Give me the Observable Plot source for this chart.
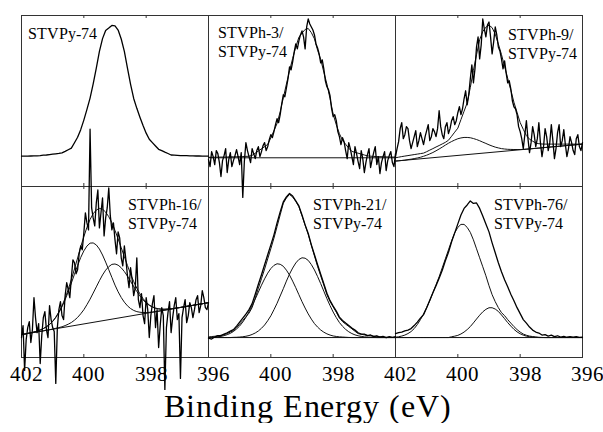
<!DOCTYPE html>
<html><head><meta charset="utf-8">
<script src="https://cdn.jsdelivr.net/npm/d3@7"></script>
<script src="https://cdn.jsdelivr.net/npm/@observablehq/plot@0.6"></script>
<style>
@font-face{font-family:"RefSerif";src:local("Liberation Serif"),local("LiberationSerif"),local("LiberationSerif-Regular"),local("Liberation Serif Regular"),local("Times New Roman");font-weight:400;font-style:normal;}
body{margin:0;background:#fff;}
#chart{width:603px;height:390px;}
#chart svg, #chart svg text, #chart svg tspan{font-family:"RefSerif","Liberation Serif","Times New Roman",Times,serif !important;}
#title{font-family:"RefSerif","Liberation Serif","Times New Roman",Times,serif;font-size:32px;line-height:33px;letter-spacing:0.9px;text-align:center;padding-left:13px;width:590px;color:#000;}
</style></head><body>
<div id="chart"></div>
<div id="title">Binding Energy (eV)</div>
<script>
// Binding energy grids (eV)
const energy = [402.0,401.9,401.8,401.7,401.6,401.5,401.4,401.3,401.2,401.1,401.0,400.9,400.8,400.7,400.6,400.5,400.4,400.3,400.2,400.1,400.0,399.9,399.8,399.7,399.6,399.5,399.4,399.3,399.2,399.1,399.0,398.9,398.8,398.7,398.6,398.5,398.4,398.3,398.2,398.1,398.0,397.9,397.8,397.7,397.6,397.5,397.4,397.3,397.2,397.1,397.0,396.9,396.8,396.7,396.6,396.5,396.4,396.3,396.2,396.1,396.0];
const energyFine = [402,401.95,401.9,401.85,401.8,401.75,401.7,401.65,401.6,401.55,
401.5,401.45,401.4,401.35,401.3,401.25,401.2,401.15,401.1,401.05,
401,400.95,400.9,400.85,400.8,400.75,400.7,400.65,400.6,400.55,
400.5,400.45,400.4,400.35,400.3,400.25,400.2,400.15,400.1,400.05,
400,399.95,399.9,399.85,399.8,399.75,399.7,399.65,399.6,399.55,
399.5,399.45,399.4,399.35,399.3,399.25,399.2,399.15,399.1,399.05,
399,398.95,398.9,398.85,398.8,398.75,398.7,398.65,398.6,398.55,
398.5,398.45,398.4,398.35,398.3,398.25,398.2,398.15,398.1,398.05,
398,397.95,397.9,397.85,397.8,397.75,397.7,397.65,397.6,397.55,
397.5,397.45,397.4,397.35,397.3,397.25,397.2,397.15,397.1,397.05,
397,396.95,396.9,396.85,396.8,396.75,396.7,396.65,396.6,396.55,
396.5,396.45,396.4,396.35,396.3,396.25,396.2,396.15,396.1,396.05,
396];
const baseEnergy = [402, 396];

// Panel labels
const panelLabels = ["STVPy-74","STVPh-3/\nSTVPy-74","STVPh-9/\nSTVPy-74","STVPh-16/\nSTVPy-74","STVPh-21/\nSTVPy-74","STVPh-76/\nSTVPy-74"];

// Tick labels per column (bottom row)
const tickLabelsByCol = [[402,400,398,396],[400,398],[402,400,398,396]];
const minorTicks = [400, 398];

// N 1s intensities (a.u.)
const p1Data = [30.5,30.5,30.5,30.6,30.7,30.8,31.0,31.4,31.6,32.0,32.4,32.8,33.2,33.8,35.3,36.9,38.5,43.9,49.4,57.0,66.6,77.3,88.7,103.0,118.8,135.5,148.3,156.5,158.9,161.5,161.0,156.9,147.9,135.5,118.8,102.5,88.3,78.4,69.5,61.1,53.5,47.4,44.0,40.6,37.3,36.0,34.5,33.1,31.6,31.4,31.2,31.0,31.0,30.9,30.8,30.7,30.6,30.6,30.5,30.5,30.5];

const p2Data = [27,20,35,30,22,36,33,24,10,26,31,38,14,27,34,20,26,31,37,30,22,34,-11,25,44,36,30,24,38,33,28,36,40,30,35,41,44,36,40,47,52,49,55,62,68,64,72,83,92,90,99,108,120,117,125,135,143,138,146,152,156,150,138,160,168,163,160,157,152,143,139,133,124,127,118,106,100,97,91,78,70,72,66,55,50,42,49,45,36,28,44,38,30,22,40,33,25,18,36,28,14,24,32,38,19,27,34,40,22,30,13,24,30,35,16,26,31,35,24,20,33];
const p2Fit = [29.3,29.3,29.4,29.4,29.5,29.5,29.6,29.7,29.8,29.9,30.0,30.1,30.2,30.4,31.2,33.4,35.6,37.8,40.0,42.2,48.7,56.0,63.2,75.0,88.9,102.8,116.1,128.4,139.9,149.7,153.8,157.5,158.5,154.3,148.1,136.7,127.5,114.7,102.7,88.0,72.5,61.9,53.0,46.4,42.4,38.4,35.2,34.3,33.4,32.5,31.6,30.7,30.4,30.2,30.0,29.9,29.8,29.7,29.6,29.5,29.5];
const p2Base = [28.8, 28.8];

const p3Data = [30,38,45,58,64,48,52,60,58,46,38,44,50,56,40,46,54,48,42,50,56,62,46,50,58,55,50,58,76,60,52,48,60,64,53,58,66,70,62,66,74,80,72,78,88,96,82,92,108,122,104,118,140,150,128,142,168,158,150,162,165,150,133,145,160,152,140,136,128,118,126,114,104,106,98,86,80,78,72,60,55,48,38,52,66,48,34,44,60,52,40,48,64,44,30,40,58,50,36,44,62,46,28,38,54,62,40,46,57,42,30,38,50,44,36,32,48,52,40,36,44];
const p3Fit = [28.8,29.4,30.0,30.5,31.0,31.5,32.0,32.5,33.0,33.5,34.9,36.5,38.0,39.6,41.1,42.7,44.3,46.4,50.4,54.5,58.5,67.1,75.5,83.9,99.3,116.4,132.1,147.2,155.4,159.8,161.8,159.3,152.8,143.0,132.4,120.5,108.5,96.6,84.5,74.3,64.1,57.3,51.1,47.4,45.5,43.6,42.9,42.6,42.5,42.5,42.5,42.5,42.5,42.5,42.5,42.5,42.5,42.5,42.5,42.5,42.5];
const p3Minor = [25.5,25.8,26.1,26.4,27.0,27.4,28.0,28.6,29.3,30.3,31.4,32.7,34.1,35.8,37.6,39.5,41.5,43.4,45.1,46.6,47.9,48.7,49.2,49.2,48.9,48.1,47.1,45.9,44.5,43.2,41.8,40.6,39.5,38.7,38.0,37.6,37.3,37.2,37.1,37.1,37.1,37.2,37.5,37.7,38.0,38.3,38.5,38.8,39.1,39.4,39.7,39.9,40.2,40.5,40.8,41.1,41.4,41.6,41.9,42.2,42.5];
const p3Base = [25.5, 42.5];

const p4Data = [20,32,-13,18,30,36,15,28,60,40,25,34,-6,22,40,46,28,20,52,38,30,26,-26,30,48,56,42,38,62,75,68,60,80,98,95,84,88,104,112,108,125,145,135,128,229,150,140,132,155,168,130,145,160,122,140,150,170,142,128,135,118,104,126,120,100,92,112,98,82,70,90,78,62,70,100,58,50,64,42,34,60,48,20,42,54,62,30,48,10,32,50,42,-33,30,45,56,25,40,52,60,38,44,-21,40,50,58,35,42,55,50,40,48,58,62,45,52,67,60,50,48,55];
const p4Fit = [23.0,23.5,24.2,24.9,25.6,26.5,27.6,29.0,30.9,33.2,36.3,40.5,45.7,51.8,59.5,68.3,78.3,88.8,99.8,111.0,121.1,130.6,138.5,144.2,147.9,149.5,148.7,145.9,141.2,135.2,127.4,119.0,110.1,101.1,92.3,83.8,76.1,69.5,63.8,59.1,55.4,52.7,50.8,49.5,48.8,48.4,48.4,48.6,48.9,49.3,49.8,50.2,50.7,51.3,51.8,52.3,52.9,53.4,53.9,54.5,55.0];
const p4CompA = [23.0,23.5,24.2,24.9,25.6,26.5,27.6,29.0,30.8,33.1,36.1,40.1,45.1,50.9,58.0,65.9,74.7,83.5,92.2,100.3,106.9,111.8,114.7,114.9,112.9,108.8,102.8,95.7,88.0,80.3,72.6,65.9,60.2,55.5,51.8,49.1,47.2,46.0,45.4,45.1,45.1,45.3,45.6,46.0,46.5,47.0,47.5,48.1,48.6,49.1,49.7,50.2,50.7,51.3,51.8,52.3,52.9,53.4,53.9,54.5,55.0];
const p4CompB = [23.0,23.5,24.1,24.6,25.1,25.7,26.2,26.7,27.4,27.9,28.5,29.3,30.0,30.8,32.0,33.4,35.1,37.4,40.2,43.8,47.9,53.0,58.5,64.6,70.8,77.0,82.8,87.6,91.1,93.4,93.8,92.6,90.0,86.2,81.6,76.4,71.1,66.2,61.7,57.8,54.6,52.3,50.6,49.4,48.8,48.4,48.4,48.6,48.9,49.3,49.8,50.2,50.7,51.3,51.8,52.3,52.9,53.4,53.9,54.5,55.0];
const p4Base = [23, 55];

const p5Data = [19.5,18.5,20.5,22,21.8,23.5,24.8,26.5,28,31.5,35.5,39.5,43.5,48,54,63.5,73.5,83,93,103,113,123,135,146,156,161,164.5,162,157,152,143,133,124.5,113,103,93,83.5,74,64.5,57,51.5,46.5,40.5,37.2,34.5,32,29.5,27.5,24.8,23.5,23.4,22,22.6,21,21.8,20.5,21.2,19.8,20.9,20.2,21];
const p5Fit = [20.5,21.0,21.3,21.7,22.3,23.0,24.0,25.5,26.8,29.8,33.5,37.1,40.9,44.5,50.1,59.6,69.5,79.0,88.7,98.9,109.1,119.7,131.3,143.0,154.7,160.0,163.5,161.0,156.6,151.3,142.0,132.7,123.3,112.4,101.9,91.4,81.9,72.6,63.0,56.3,50.8,45.5,39.6,36.0,33.5,31.1,28.8,26.3,24.0,23.3,22.7,22.2,21.8,21.4,21.1,20.8,20.6,20.4,20.2,20.1,20.0];
const p5CompA = [20.2,20.3,20.5,20.8,21.2,21.9,22.9,24.2,26.1,28.6,31.6,35.6,40.2,45.8,51.8,58.6,65.6,72.5,78.9,84.6,89.2,92.4,94.0,93.5,91.5,87.6,82.7,76.6,70.0,63.0,56.0,49.6,43.7,38.5,34.0,30.5,27.6,25.4,23.7,22.5,21.6,21.1,20.7,20.5,20.3,20.1,20,20,20,20,20,20,20,20,20,20,20,20,20,20,20];
const p5CompB = [20,20,20,20,20,20,20,20,20.2,20.3,20.5,20.8,21.3,22.0,23.1,24.6,26.6,29.3,32.6,36.9,41.8,47.9,54.4,61.7,69.0,76.6,83.7,89.7,94.8,98.3,100.0,99.6,97.4,93.2,87.8,81.2,74.1,66.5,59.0,52.0,45.6,40.0,35.1,31.3,28.2,25.8,24.0,22.7,21.8,21.2,20.7,20.5,20.3,20.1,20,20,20,20,20,20,20];
const p5Base = [20, 20];

const p6Data = [24,25,25.5,26.8,27.5,29,32,35.5,39.5,43,50,57.5,65,72,79.5,87.5,97,105.5,116,125,134,143,149.5,153,157,154.5,155,149.5,142,134,126,115,105,95,86,78,71,63.5,57,50,44,38,34.5,30.5,27.5,25.5,24.5,22.5,23,21.5,22.5,21,21.8,20.5,21.2,20.3,21,20.4,20.8,20.2,20.5];
const p6CompA = [20.3,20.8,21.5,22.5,24,26,29,33,38,43.5,50,57,65,73,81,90,99,108,117,125,130.5,133.5,133.5,130.5,125.5,118,109,100,91,82,72,63,56,50,45,42,38,34.5,31,28,25.5,23.5,22.3,21.5,21,20.6,20.3,20.1,20,20,20,20,20,20,20,20,20,20,20,20,20];
const p6CompB = [20,20,20,20,20,20,20,20,20,20,20,20,20,20,20,20,20,20,20.8,21.4,22.2,23.6,25.5,28,31,34.7,38.6,42.4,45.8,48.3,49.9,49.9,48.6,46.2,42.7,38.9,35,31.5,28.3,25.7,23.8,22.4,21.4,20.8,20.4,20.2,20,20,20,20,20,20,20,20,20,20,20,20,20,20,20];
const p6Base = [20, 20];

// ---- assemble tidy rows ----
const dataRows = [], fitRows = [];
function add(target, xs, ys, col, row, name) {
  ys.forEach((v, i) => target.push({E: xs[i], v, col, row, name}));
}
add(dataRows, energy, p1Data, 0, 0, "p1");
add(dataRows, energyFine, p2Data, 1, 0, "p2");
add(fitRows, energy, p2Fit, 1, 0, "p2fit");
add(fitRows, baseEnergy, p2Base, 1, 0, "p2base");
add(dataRows, energyFine, p3Data, 2, 0, "p3");
add(fitRows, energy, p3Fit, 2, 0, "p3fit");
add(fitRows, energy, p3Minor, 2, 0, "p3minor");
add(fitRows, baseEnergy, p3Base, 2, 0, "p3base");
add(dataRows, energyFine, p4Data, 0, 1, "p4");
add(fitRows, energy, p4Fit, 0, 1, "p4fit");
add(fitRows, energy, p4CompA, 0, 1, "p4a");
add(fitRows, energy, p4CompB, 0, 1, "p4b");
add(fitRows, baseEnergy, p4Base, 0, 1, "p4base");
add(dataRows, energy, p5Data, 1, 1, "p5");
add(fitRows, energy, p5Fit, 1, 1, "p5fit");
add(fitRows, energy, p5CompA, 1, 1, "p5a");
add(fitRows, energy, p5CompB, 1, 1, "p5b");
add(fitRows, baseEnergy, p5Base, 1, 1, "p5base");
add(dataRows, energy, p6Data, 2, 1, "p6");
add(fitRows, energy, p6CompA, 2, 1, "p6a");
add(fitRows, energy, p6CompB, 2, 1, "p6b");
add(fitRows, baseEnergy, p6Base, 2, 1, "p6base");

const tickLabelRows = [];
tickLabelsByCol.forEach((ts, col) => ts.forEach(E => tickLabelRows.push({E, col, row: 1})));
const tickRows = [];
for (let col = 0; col < 3; col++) for (let row = 0; row < 2; row++) minorTicks.forEach(E => tickRows.push({E, col, row}));

const labelRows = panelLabels.map((label, i) => ({label, col: i % 3, row: Math.floor(i / 3)}));
const labelOffsets = [[6,10],[9,9],[112,11],[106,10],[104,10],[98,10]];

const serif = "RefSerif, Liberation Serif, Times New Roman, Times, serif";

const chart = Plot.plot({
  width: 603, height: 390,
  marginTop: 14, marginBottom: 33, marginLeft: 20, marginRight: 21,
  style: {fontFamily: serif, background: "#fff", color: "#000"},
  x: {domain: [402, 396], axis: null},
  y: {domain: [0, 171.5], axis: null},
  fx: {domain: [0, 1, 2], axis: null, padding: 0},
  fy: {domain: [0, 1], axis: null, padding: 0},
  marks: [
    Plot.frame({stroke: "#333", strokeWidth: 1}),
    Plot.ruleX(tickRows, {x: "E", fx: "col", fy: "row", y1: 0, y2: 3, stroke: "#333"}),
    Plot.ruleX(tickRows, {x: "E", fx: "col", fy: "row", y1: 168.5, y2: 171.5, stroke: "#333"}),
    Plot.line(fitRows, {x: "E", y: "v", z: "name", fx: "col", fy: "row", stroke: "#111", strokeWidth: 1}),
    Plot.line(dataRows, {x: "E", y: "v", z: "name", fx: "col", fy: "row", stroke: "#000", strokeWidth: 1.3}),
    ...labelRows.map((d, i) => Plot.text([d], {
      fx: "col", fy: "row", text: "label", frameAnchor: "top-left", textAnchor: "start", lineAnchor: "top",
      dx: labelOffsets[i][0], dy: labelOffsets[i][1], fontSize: 16, lineHeight: 1.2, fill: "#000", fontFamily: serif
    })),
    Plot.text(tickLabelRows, {
      x: "E", fx: "col", fy: "row", text: d => String(d.E), frameAnchor: "bottom", lineAnchor: "bottom",
      dy: 23, dx: 5, fontSize: 21, fill: "#000", fontFamily: serif
    })
  ]
});
document.getElementById("chart").appendChild(chart);
</script>
</body></html>
